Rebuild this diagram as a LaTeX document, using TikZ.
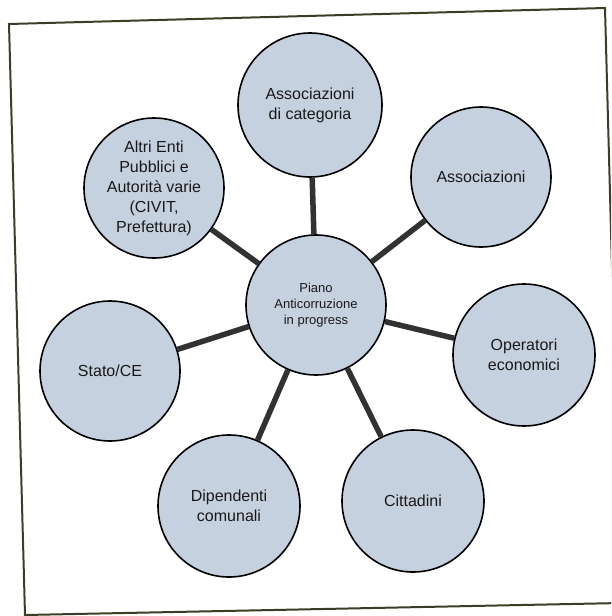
\documentclass[tikz,border=0pt]{standalone}
\usepackage{fontspec}
\setmainfont{Liberation Sans}
\definecolor{bubble}{RGB}{198,209,224}
\definecolor{conncol}{RGB}{50,50,50}
\definecolor{framecol}{RGB}{60,60,40}
\tikzset{
  bub/.style={circle, draw=black, line width=1.6pt, fill=bubble, inner sep=0pt,
    align=center, font=\fontsize{16}{20}\selectfont, text=black!90},
  hub/.style={bub, font=\fontsize{13}{16}\selectfont},
  conn/.style={draw=conncol, line width=5.5pt},
  framebox/.style={draw=framecol, line width=2pt}
}
\begin{document}
\begin{tikzpicture}[x=1pt,y=-1pt]
\useasboundingbox (0,0) rectangle (611,616);
\clip (0,0) rectangle (611,616);
\fill[white] (0,0) rectangle (611,616);
\draw[framebox] (9,24) -- (605,8) -- (621,603) -- (25,615) -- cycle;

\node[hub, minimum size=140pt] (c) at (316,305) {Piano\\Anticorruzione\\in progress};
\node[bub, minimum size=144pt] (cat) at (310,105) {Associazioni\\di categoria};
\node[bub, minimum size=140pt] (ass) at (481,177) {Associazioni};
\node[bub, minimum size=142pt] (op) at (524,355) {Operatori\\economici};
\node[bub, minimum size=142pt] (cit) at (413,501) {Cittadini};
\node[bub, minimum size=142pt] (dip) at (229,506) {Dipendenti\\comunali};
\node[bub, minimum size=140pt] (st) at (110,371) {Stato/CE};
\node[bub, minimum size=140pt] (al) at (154,188) {Altri Enti\\Pubblici e\\Autorità varie\\(CIVIT,\\Prefettura)};

\foreach \n in {cat,ass,op,cit,dip,st,al}{
  \draw[conn] (c) -- (\n);
}
\end{tikzpicture}
\end{document}
